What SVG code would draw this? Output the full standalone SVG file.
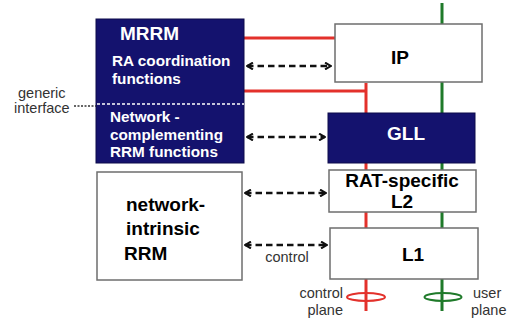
<svg xmlns="http://www.w3.org/2000/svg" width="510" height="322" viewBox="0 0 510 322">
<style>
text{font-family:"Liberation Sans",Arial,sans-serif}
.b{font-weight:bold}
.w{fill:#ffffff}
.k{fill:#000000}
.g{fill:#333333}
.navy{fill:#14126e;stroke:#0c0b4a;stroke-width:1}
.wbox{fill:#ffffff;stroke:#6e6e6e;stroke-width:1.5}
.red{stroke:#e3312b;stroke-width:3;fill:none}
.grn{stroke:#1f7a2a;stroke-width:3;fill:none}
.dash{stroke:#111111;stroke-width:2.5;stroke-dasharray:6.5 4;fill:none;marker-start:url(#a);marker-end:url(#a)}
</style>
<defs>
<marker id="a" viewBox="0 0 10 10" refX="9" refY="5" markerWidth="3.4" markerHeight="3.4" orient="auto-start-reverse" markerUnits="strokeWidth">
<path d="M2,1 L9,5 L2,9" fill="none" stroke="#111111" stroke-width="2.4"/>
</marker>
</defs>
<rect width="510" height="322" fill="#ffffff"/>
<g id="planes">
<line class="red" x1="366" y1="83" x2="366" y2="311"/>
<line class="grn" x1="442" y1="3" x2="442" y2="311"/>
<ellipse cx="366" cy="297" rx="19" ry="4" fill="none" stroke="#e3312b" stroke-width="2"/>
<ellipse cx="443" cy="297" rx="18.5" ry="4" fill="none" stroke="#1f7a2a" stroke-width="2"/>
</g>
<g id="connectors">
<line class="red" x1="244" y1="38" x2="335" y2="38"/>
<line class="red" x1="244" y1="91" x2="366" y2="91"/>
<line class="dash" x1="247" y1="66" x2="331" y2="66"/>
<line class="dash" x1="247" y1="137" x2="325" y2="137"/>
<line class="dash" x1="245" y1="193" x2="326" y2="193"/>
<line class="dash" x1="245" y1="245" x2="327" y2="245"/>
<text x="287" y="262" font-size="14.5" text-anchor="middle" class="g">control</text>
</g>
<g id="mrrm">
<rect class="navy" x="96" y="19" width="148" height="144"/>
<text x="120" y="40" font-size="19" class="b w">MRRM</text>
<text x="112" y="66" font-size="15.3" class="b w">RA coordination</text>
<text x="112" y="84" font-size="15.3" class="b w">functions</text>
<line x1="97" y1="104" x2="244" y2="104" stroke="#ffffff" stroke-width="1.5" stroke-dasharray="3 2"/>
<text x="110" y="122" font-size="15.3" class="b w">Network -</text>
<text x="110" y="140" font-size="15.3" class="b w">complementing</text>
<text x="110" y="157" font-size="15.3" class="b w">RRM functions</text>
</g>
<g id="generic-interface">
<text x="18" y="98" font-size="14.5" class="g">generic</text>
<text x="14" y="113" font-size="14.5" class="g">interface</text>
<line x1="74" y1="106" x2="96" y2="106" stroke="#333333" stroke-width="1.5" stroke-dasharray="2 1.5"/>
</g>
<g id="ip">
<rect class="wbox" x="335" y="24" width="147" height="58"/>
<text x="400" y="64" font-size="19" text-anchor="middle" class="b k">IP</text>
</g>
<g id="gll">
<rect class="navy" x="328" y="113" width="147" height="50"/>
<text x="406" y="140" font-size="19" text-anchor="middle" class="b w">GLL</text>
</g>
<g id="l2">
<rect class="wbox" x="329" y="170" width="147" height="42"/>
<text x="402" y="187" font-size="19" text-anchor="middle" class="b k">RAT-specific</text>
<text x="402" y="208" font-size="19" text-anchor="middle" class="b k">L2</text>
</g>
<g id="l1">
<rect class="wbox" x="330" y="228" width="148" height="51"/>
<text x="413" y="261" font-size="19" text-anchor="middle" class="b k">L1</text>
</g>
<g id="nirrm">
<rect class="wbox" x="97" y="172" width="145" height="108"/>
<text x="126" y="211" font-size="19" class="b k">network-</text>
<text x="126" y="235" font-size="19" class="b k">intrinsic</text>
<text x="124" y="260" font-size="19" class="b k">RRM</text>
</g>
<g id="plane-labels">
<text x="343" y="298" font-size="14.5" text-anchor="end" class="g">control</text>
<text x="343" y="315" font-size="14.5" text-anchor="end" class="g">plane</text>
<text x="473" y="298" font-size="14.5" class="g">user</text>
<text x="471" y="315" font-size="14.5" class="g">plane</text>
</g>
</svg>
